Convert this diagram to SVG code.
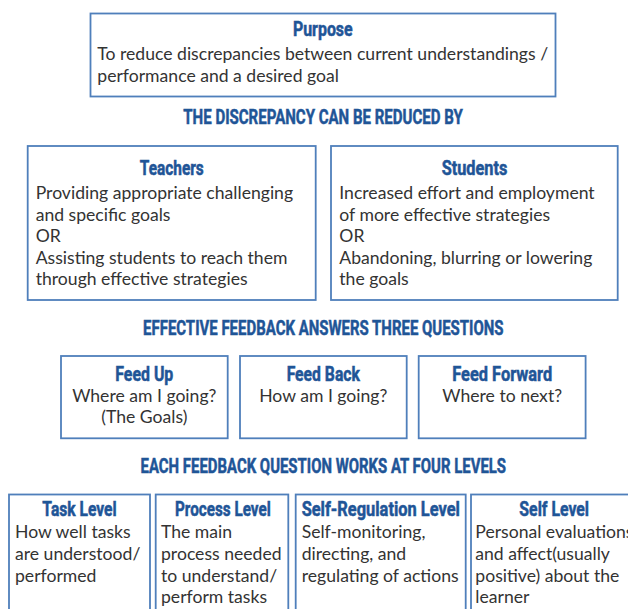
<svg xmlns="http://www.w3.org/2000/svg" width="628" height="609" viewBox="0 0 628 609">
  <style>
    .box { fill: #ffffff; stroke: #4f7fbb; stroke-width: 1.8; }
    .title { font-family: Roboto, "Liberation Sans", sans-serif; font-weight: 700; font-size: 19.5px; fill: #1f5597; stroke: #1f5597; stroke-width: 0.5; text-anchor: middle; }
    .head { font-family: Roboto, "Liberation Sans", sans-serif; font-weight: 700; font-size: 19.5px; fill: #1f5597; stroke: #1f5597; stroke-width: 0.5; text-anchor: middle; }
    .body { font-family: Lato, "Open Sans", sans-serif; font-size: 17.6px; fill: #333333; }
    .mid { text-anchor: middle; }
  </style>
  <rect width="628" height="609" fill="#ffffff"/>

  <!-- Purpose -->
  <g id="purpose">
    <rect class="box" x="90.5" y="13.5" width="465" height="83"/>
    <text class="title" x="322.8" y="36" textLength="59.7" lengthAdjust="spacingAndGlyphs">Purpose</text>
    <text class="body" x="97.3" y="60">To reduce discrepancies between current understandings /</text>
    <text class="body" x="97.3" y="81.5">performance and a desired goal</text>
  </g>

  <text class="head" x="323" y="124" textLength="279.4" lengthAdjust="spacingAndGlyphs">THE DISCREPANCY CAN BE REDUCED BY</text>

  <!-- Teachers -->
  <g id="teachers">
    <rect class="box" x="27.7" y="146" width="288" height="154"/>
    <text class="title" x="171.8" y="175" textLength="64" lengthAdjust="spacingAndGlyphs">Teachers</text>
    <text class="body" x="35.7" y="199">Providing appropriate challenging</text>
    <text class="body" x="35.7" y="220.5">and specific goals</text>
    <text class="body" x="35.7" y="242">OR</text>
    <text class="body" x="35.7" y="263.5">Assisting students to reach them</text>
    <text class="body" x="35.7" y="285">through effective strategies</text>
  </g>

  <!-- Students -->
  <g id="students">
    <rect class="box" x="331" y="146" width="286.7" height="154"/>
    <text class="title" x="474.5" y="175" textLength="65.7" lengthAdjust="spacingAndGlyphs">Students</text>
    <text class="body" x="339.3" y="199">Increased effort and employment</text>
    <text class="body" x="339.3" y="220.5">of more effective strategies</text>
    <text class="body" x="339.3" y="242">OR</text>
    <text class="body" x="339.3" y="263.5">Abandoning, blurring or lowering</text>
    <text class="body" x="339.3" y="285">the goals</text>
  </g>

  <text class="head" x="323.3" y="335" textLength="360.5" lengthAdjust="spacingAndGlyphs">EFFECTIVE FEEDBACK ANSWERS THREE QUESTIONS</text>

  <!-- Feed Up -->
  <g id="feed-up">
    <rect class="box" x="61" y="356" width="166.7" height="82.3"/>
    <text class="title" x="144.3" y="380.7" textLength="58" lengthAdjust="spacingAndGlyphs">Feed Up</text>
    <text class="body mid" x="144.3" y="401.7">Where am I going?</text>
    <text class="body mid" x="144.3" y="423.3">(The Goals)</text>
  </g>

  <!-- Feed Back -->
  <g id="feed-back">
    <rect class="box" x="240" y="356" width="166.7" height="82.3"/>
    <text class="title" x="323.3" y="380.7" textLength="73.3" lengthAdjust="spacingAndGlyphs">Feed Back</text>
    <text class="body mid" x="323.3" y="401.7">How am I going?</text>
  </g>

  <!-- Feed Forward -->
  <g id="feed-forward">
    <rect class="box" x="418.7" y="356" width="166.9" height="82.3"/>
    <text class="title" x="502.2" y="380.7" textLength="100" lengthAdjust="spacingAndGlyphs">Feed Forward</text>
    <text class="body mid" x="502.2" y="401.7">Where to next?</text>
  </g>

  <text class="head" x="323.3" y="473.3" textLength="365.5" lengthAdjust="spacingAndGlyphs">EACH FEEDBACK QUESTION WORKS AT FOUR LEVELS</text>

  <!-- Task Level -->
  <g id="task-level">
    <rect class="box" x="9" y="494.5" width="141" height="130"/>
    <text class="title" x="79.5" y="516.3" textLength="74.3" lengthAdjust="spacingAndGlyphs">Task Level</text>
    <text class="body" x="15" y="538.3">How well tasks</text>
    <text class="body" x="15" y="560">are understood/</text>
    <text class="body" x="15" y="581.7">performed</text>
  </g>

  <!-- Process Level -->
  <g id="process-level">
    <rect class="box" x="155.7" y="494.5" width="132.6" height="130"/>
    <text class="title" x="222.9" y="516.3" textLength="95.7" lengthAdjust="spacingAndGlyphs">Process Level</text>
    <text class="body" x="161" y="538.3">The main</text>
    <text class="body" x="161" y="560">process needed</text>
    <text class="body" x="161" y="581.7">to understand/</text>
    <text class="body" x="161" y="603.3">perform tasks</text>
  </g>

  <!-- Self-Regulation Level -->
  <g id="self-regulation-level">
    <rect class="box" x="295.7" y="494.5" width="170" height="130"/>
    <text class="title" x="380.8" y="516.3" textLength="158.3" lengthAdjust="spacingAndGlyphs">Self-Regulation Level</text>
    <text class="body" x="301.7" y="538.3">Self-monitoring,</text>
    <text class="body" x="301.7" y="560">directing, and</text>
    <text class="body" x="301.7" y="581.7">regulating of actions</text>
  </g>

  <!-- Self Level -->
  <g id="self-level">
    <rect class="box" x="471" y="494.5" width="170" height="130"/>
    <text class="title" x="554.2" y="516.3" textLength="69.7" lengthAdjust="spacingAndGlyphs">Self Level</text>
    <text class="body" x="475.3" y="538.3">Personal evaluations</text>
    <text class="body" x="475.3" y="560">and affect(usually</text>
    <text class="body" x="475.3" y="581.7">positive) about the</text>
    <text class="body" x="475.3" y="603.3">learner</text>
  </g>
</svg>
